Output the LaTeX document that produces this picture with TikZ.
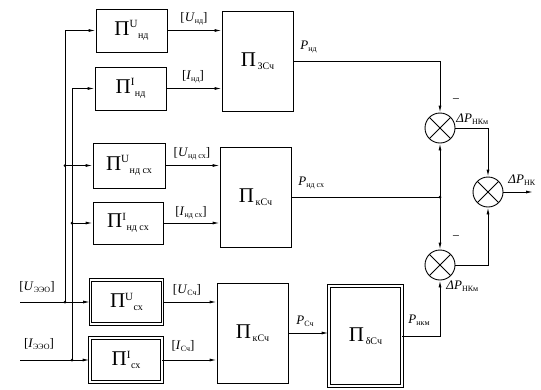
\documentclass[tikz,border=0pt]{standalone}
\usepackage{fontspec}
\setmainfont{Liberation Serif}
\usetikzlibrary{arrows.meta}
\newcommand\blab[2]{П\textsuperscript{\fontsize{11}{12}\selectfont #1}\raisebox{-0.3ex}{\fontsize{10}{11}\selectfont #2}}
\newcommand\bname[1]{П\raisebox{-0.3ex}{\fontsize{10}{11}\selectfont\,#1}}
\newcommand\sigl[2]{[\textit{#1}\raisebox{-0.3ex}{\fontsize{8}{9}\selectfont #2}]}
\newcommand\outl[2]{\textit{#1}\raisebox{-0.3ex}{\fontsize{8}{9}\selectfont #2}}
\begin{document}
\begin{tikzpicture}[x=1pt,y=-1pt, line width=0.9pt,
  >={Latex[length=7pt,width=3pt]},
  blk/.style={draw, rectangle, inner sep=0pt, font=\fontsize{21}{24}\selectfont},
  sblk/.style={blk, minimum width=71pt, minimum height=43pt},
  dsblk/.style={sblk, double, double distance=1.5pt, minimum width=72pt, minimum height=44pt},
  bblk/.style={blk, minimum width=71pt, minimum height=100pt},
  sumn/.style={draw, circle, minimum size=30pt, inner sep=0pt,
    path picture={\draw (path picture bounding box.north west) -- (path picture bounding box.south east)
                        (path picture bounding box.north east) -- (path picture bounding box.south west);}},
  lbl/.style={font=\fontsize{13}{15}\selectfont, inner sep=0pt},
  jdot/.style={circle, fill, inner sep=0pt, minimum size=3pt}]
\useasboundingbox (0,0) rectangle (541,389);

% small blocks
\node[sblk] (pu1) at (131.5,30.5) {\blab{U}{нд}};
\node[sblk] (pi1) at (130.5,88.5) {\blab{I}{нд}};
\node[sblk, minimum width=72pt, minimum height=45pt] (pu2) at (129,165.5) {\blab{U}{нд сх}};
\node[sblk, minimum width=70pt, minimum height=42pt] (pi2) at (128,223) {\blab{I}{нд сх}};
\node[dsblk] (pu3) at (126.5,302) {\blab{U}{сх}};
\node[dsblk] (pi3) at (126,360) {\blab{I}{сх}};

% big blocks
\node[bblk] (p3) at (257.5,61.5) {\bname{ЗСч}};
\node[bblk] (pk1) at (255.5,197) {\bname{кСч}};
\node[bblk] (pk2) at (252.5,333) {\bname{кСч}};
\node[bblk, double, double distance=1.5pt, minimum width=73pt, minimum height=100pt] (pd) at (365.5,336) {\bname{δСч}};

% summators
\node[sumn] (s1) at (440,128) {};
\node[sumn] (s2) at (488,192) {};
\node[sumn] (s3) at (440,265) {};

% inputs
\coordinate (inU) at (20,302);
\coordinate (inI) at (20,360);
\coordinate (jU1) at (65,302);
\coordinate (jU2) at (65,165.5);
\coordinate (jI1) at (72,360);
\coordinate (jI2) at (72,223);
\draw[->] (inU) -- (pu3.west);
\draw[->] (inI) -- (pi3.west);
\draw[->] (jU1) -- (65,30.5) -- (pu1.west);
\draw[->] (jI1) -- (72,88.5) -- (pi1.west);
\draw[->] (jU2) -- (pu2.west);
\draw[->] (jI2) -- (pi2.west);
\foreach \j in {jU1,jU2,jI1,jI2} \node[jdot] at (\j) {};
\node[lbl] at (37,287) {\sigl{U}{ЭЭО}};
\node[lbl] at (39,344) {\sigl{I}{ЭЭО}};

% small to big
\draw[->] (pu1.east) -- (pu1.east -| p3.west);
\draw[->] (pi1.east) -- (pi1.east -| p3.west);
\draw[->] (pu2.east) -- (pu2.east -| pk1.west);
\draw[->] (pi2.east) -- (pi2.east -| pk1.west);
\draw[->] (pu3.east) -- (pu3.east -| pk2.west);
\draw[->] (pi3.east) -- (pi3.east -| pk2.west);
\node[lbl] at (194,19) {\sigl{U}{нд}};
\node[lbl] at (193,77) {\sigl{I}{нд}};
\node[lbl] at (192,154) {\sigl{U}{нд сх}};
\node[lbl] at (191,213) {\sigl{I}{нд сх}};
\node[lbl] at (187,290) {\sigl{U}{Сч}};
\node[lbl] at (183,346) {\sigl{I}{Сч}};

% outputs of big blocks
\draw[->] (p3.east) -- (p3.east -| s1.north) -- (s1.north);
\coordinate (jP) at (pk1.east -| s1.south);
\draw (pk1.east) -- (jP);
\node[jdot] at (jP) {};
\draw[->] (jP) -- (s1.south);
\draw[->] (jP) -- (s3.north);
\draw[->] (pk2.east) -- (pk2.east -| pd.west);
\draw[->] (pd.east) -- (pd.east -| s3.south) -- (s3.south);
\draw[->] (s1.east) -- (s1.east -| s2.north) -- (s2.north);
\draw[->] (s3.east) -- (s3.east -| s2.south) -- (s2.south);
\coordinate (outp) at (533,192);
\draw[->] (s2.east) -- (outp);

\node[lbl, anchor=west] at (300,47) {\outl{P}{нд}};
\node[lbl, anchor=west] at (298,183) {\outl{P}{нд сх}};
\node[lbl] at (305,321) {\outl{P}{Сч}};
\node[lbl] at (419,320) {\outl{P}{нкм}};
\node[lbl] at (456,101) {−};
\node[lbl] at (456,238) {−};
\node[lbl, anchor=west] at (456,119) {\outl{ΔP}{НКм}};
\node[lbl, anchor=west] at (446,286) {\outl{ΔP}{НКм}};
\node[lbl, anchor=west] at (508,180) {\outl{ΔP}{НК}};
\end{tikzpicture}
\end{document}
